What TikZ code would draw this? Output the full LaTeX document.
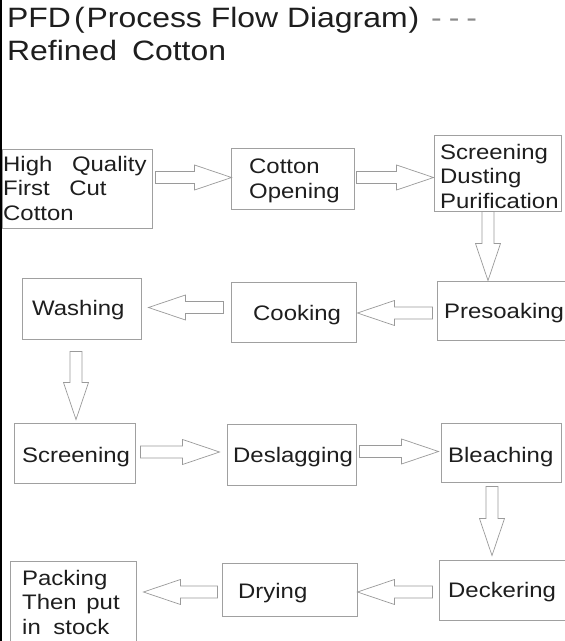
\documentclass[tikz,border=0pt]{standalone}
\usepackage{fontspec}
\setmainfont[FakeStretch=1.14]{Liberation Sans}
\usetikzlibrary{calc}
\definecolor{boxgray}{HTML}{A0A0A0}
\definecolor{arrgray}{HTML}{9A9A9A}
\definecolor{inkc}{HTML}{1E1E1E}
\definecolor{dashgray}{HTML}{8A8A8A}
\newcommand{\blockarrow}[2]{%
  \coordinate (ba-b) at ($(#2)!37pt!(#1)$);
  \draw[blockarr] ($(#1)!6pt!90:(#2)$) -- ($(ba-b)!6pt!90:(#2)$) -- ($(ba-b)!12.5pt!90:(#2)$) -- (#2) -- ($(ba-b)!12.5pt!-90:(#2)$) -- ($(ba-b)!6pt!-90:(#2)$) -- ($(#1)!6pt!-90:(#2)$) -- cycle;}
\begin{document}
\begin{tikzpicture}[x=1pt,y=-1pt,
  box/.style n args={2}{draw=boxgray,line width=0.9pt,inner sep=0pt,minimum width=#1,minimum height=#2},
  txt/.style={font=\fontsize{21}{24.5}\selectfont,text=inkc,inner sep=0pt,anchor=base west,align=left},
  ttl/.style={font=\fontsize{28}{33}\selectfont,text=inkc,inner sep=0pt,anchor=base west},
  blockarr/.style={draw=arrgray,line width=0.7pt,line join=miter}]
\useasboundingbox (0,0) rectangle (565,641);
\clip (0,0) rectangle (565,641);
\fill[white] (0,0) rectangle (565,641);
% left rule
\draw[black,line width=2pt] (1,0) -- (1,641);
% title
\node[ttl] (title1) at (7,27) {PFD\hspace{3pt}(\hspace{2pt}Process Flow Diagram\hspace{1pt})};
\node[ttl,text=dashgray] (dashes) at (431,27) {-\hspace{7pt}-\hspace{7pt}-};
\node[ttl] (title2) at (7,60) {Refined\hspace{6pt} Cotton};
% boxes
\node[box={150pt}{79pt}] (hq) at (77,188.5) {};
\node[box={123pt}{61pt}] (co) at (292.5,178.5) {};
\node[box={127pt}{76pt}] (sc) at (497.5,173) {};
\node[box={130pt}{59pt}] (pre) at (502,310.5) {};
\node[box={125pt}{60pt}] (cook) at (293.5,312) {};
\node[box={119pt}{61pt}] (wash) at (81.5,308.5) {};
\node[box={121pt}{60pt}] (scr) at (74.5,453) {};
\node[box={129pt}{61pt}] (des) at (291.5,454.5) {};
\node[box={120pt}{59pt}] (ble) at (501,452.5) {};
\node[box={128pt}{60pt}] (deck) at (503,590) {};
\node[box={135pt}{53pt}] (dry) at (289.5,589.5) {};
\node[box={126pt}{89pt}] (pack) at (73,605.5) {};
% texts (multi-line nodes: base = last line)
\node[txt] (hq-t) at (3,220) {High\hspace{13pt} Quality\\First\hspace{13pt} Cut\\Cotton};
\node[txt] (co-t) at (249,198) {Cotton\\Opening};
\node[txt] (sc-t) at (440,208) {Screening\\Dusting\\Purification};
\node[txt] (pre-t) at (444,318) {Presoaking};
\node[txt] (cook-t) at (253,320) {Cooking};
\node[txt] (wash-t) at (32,315) {Washing};
\node[txt] (scr-t) at (22,462) {Screening};
\node[txt] (des-t) at (233,462) {Deslagging};
\node[txt] (ble-t) at (448,462) {Bleaching};
\node[txt] (deck-t) at (448,597) {Deckering};
\node[txt] (dry-t) at (238,598) {Drying};
\node[txt] (pack-t) at (22,634) {Packing\\Then\hspace{3pt} put\\in\hspace{6pt} stock};
% arrow end points
\coordinate (a1s) at ($([xshift=3pt]hq.east |- co.west)+(0,-1)$);
\coordinate (a1t) at ($(co.west)+(1,-1)$);
\coordinate (a2s) at ($(co.east)+(2,-1)$);
\coordinate (a2t) at (a2s -| sc.west);
\coordinate (a3s) at ($(sc.south)+(-9.5,0)$);
\coordinate (a3t) at (a3s |- pre.north);
\coordinate (a4s) at ($(pre.west |- cook.east)+(-4,1)$);
\coordinate (a4t) at ($(cook.east)+(1,1)$);
\coordinate (a5s) at ($(cook.west |- wash.east)+(-7,-1)$);
\coordinate (a5t) at ($(wash.east)+(7,-1)$);
\coordinate (a6s) at ($(wash.south)+(-5.5,12)$);
\coordinate (a6t) at ($(a6s |- scr.north)+(0,-3)$);
\coordinate (a7s) at ($(scr.east)+(5,-1)$);
\coordinate (a7t) at ($(a7s -| des.west)+(-7,0)$);
\coordinate (a8s) at ($(des.east)+(3,-3)$);
\coordinate (a8t) at ($(a8s -| ble.west)+(-2,0)$);
\coordinate (a9s) at ($(ble.south)+(-9,4)$);
\coordinate (a9t) at ($(a9s |- deck.north)+(0,-4)$);
\coordinate (a10s) at ($(deck.west)+(-6,2)$);
\coordinate (a10t) at (a10s -| dry.east);
\coordinate (a11s) at ($(a10s -| dry.west)+(-4,0)$);
\coordinate (a11t) at ($(a11s -| pack.east)+(7,0)$);
% arrows
\blockarrow{a1s}{a1t}
\blockarrow{a2s}{a2t}
\blockarrow{a3s}{a3t}
\blockarrow{a4s}{a4t}
\blockarrow{a5s}{a5t}
\blockarrow{a6s}{a6t}
\blockarrow{a7s}{a7t}
\blockarrow{a8s}{a8t}
\blockarrow{a9s}{a9t}
\blockarrow{a10s}{a10t}
\blockarrow{a11s}{a11t}
\end{tikzpicture}
\end{document}
